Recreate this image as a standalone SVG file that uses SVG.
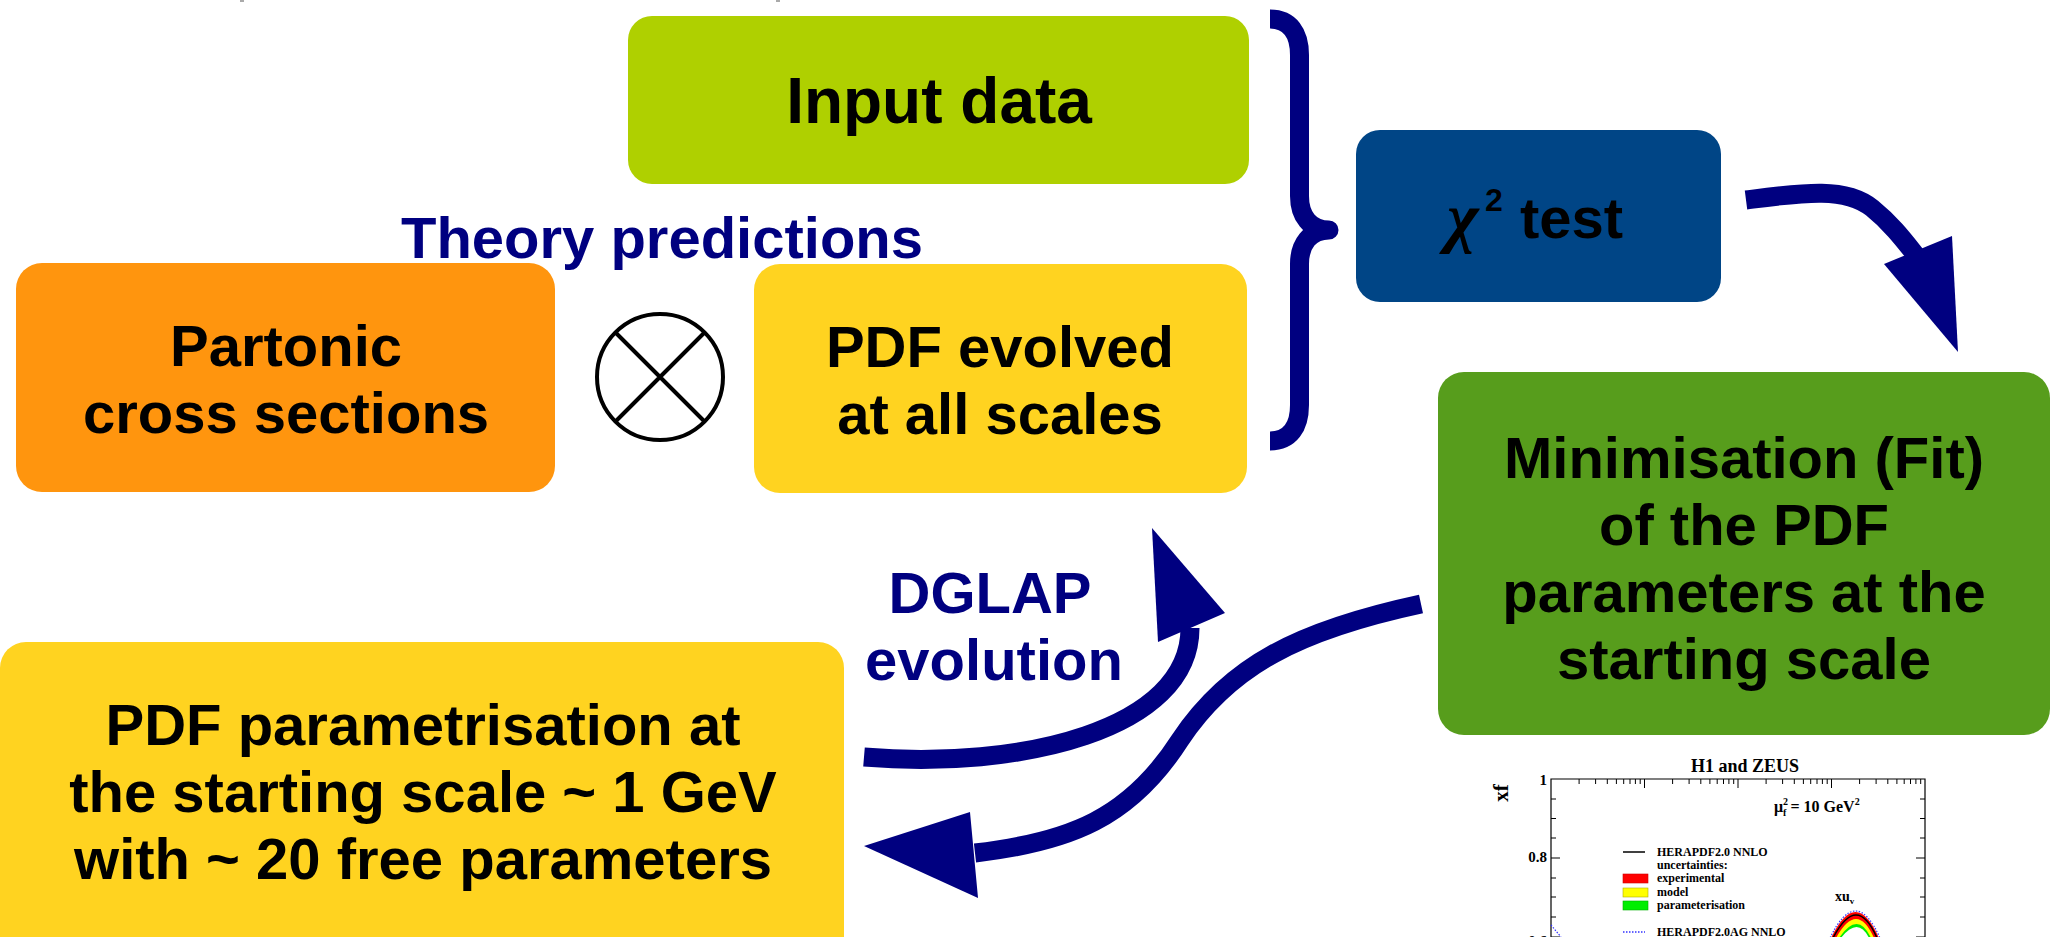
<svg xmlns="http://www.w3.org/2000/svg" width="2052" height="937" viewBox="0 0 2052 937">
<style>
.lbl{font-family:"Liberation Sans",Arial,sans-serif;font-weight:bold;font-size:58px;text-anchor:middle;fill:#000}
.blue{fill:#000080}
.shaft{fill:none;stroke:#000080;stroke-width:19}
.head{fill:#000080}
.pt{font-family:"Liberation Serif","Times New Roman",serif;font-weight:bold;fill:#000}
.tick{stroke:#000;stroke-width:1;fill:none}
</style>
<rect width="2052" height="937" fill="#fff"/>
<rect x="240" y="0" width="4" height="2" fill="#aaa"/>
<rect x="776" y="0" width="4" height="2" fill="#aaa"/>

<g id="input-data">
<rect x="628" y="16" width="621" height="168" rx="24" fill="#AFD000"/>
<text class="lbl" x="939" y="123" style="font-size:64px">Input data</text>
</g>

<g id="theory-predictions">
<text class="lbl blue" x="662" y="258">Theory predictions</text>
</g>

<g id="partonic-cross-sections">
<rect x="16" y="263" width="539" height="229" rx="26" fill="#FF950E"/>
<text class="lbl" x="286" y="366">Partonic</text>
<text class="lbl" x="286" y="433">cross sections</text>
</g>

<g id="otimes">
<circle cx="660" cy="377" r="63" fill="none" stroke="#000" stroke-width="4"/>
<path d="M615.5,332.5 L704.5,421.5 M704.5,332.5 L615.5,421.5" stroke="#000" stroke-width="4" fill="none"/>
</g>

<g id="pdf-evolved">
<rect x="754" y="264" width="493" height="229" rx="26" fill="#FFD320"/>
<text class="lbl" x="1000" y="367">PDF evolved</text>
<text class="lbl" x="1000" y="434">at all scales</text>
</g>

<g id="chi2-test">
<rect x="1356" y="130" width="365" height="172" rx="24" fill="#004586"/>
<text x="1447" y="240" style="font-family:'Liberation Serif','Times New Roman',serif;font-style:italic;font-weight:bold;font-size:68px;fill:#000">χ</text>
<text x="1485" y="211" style="font-family:'Liberation Sans',Arial,sans-serif;font-weight:bold;font-size:32px;fill:#000">2</text>
<text x="1520" y="238" style="font-family:'Liberation Sans',Arial,sans-serif;font-weight:bold;font-size:58px;fill:#000">test</text>
</g>

<g id="minimisation">
<rect x="1438" y="372" width="612" height="363" rx="26" fill="#579D1C"/>
<text class="lbl" x="1744" y="478">Minimisation (Fit)</text>
<text class="lbl" x="1744" y="545">of the PDF</text>
<text class="lbl" x="1744" y="612">parameters at the</text>
<text class="lbl" x="1744" y="679">starting scale</text>
</g>

<g id="pdf-parametrisation">
<rect x="0" y="642" width="844" height="330" rx="26" fill="#FFD320"/>
<text class="lbl" x="423" y="745">PDF parametrisation at</text>
<text class="lbl" x="423" y="812">the starting scale ~ 1 GeV</text>
<text class="lbl" x="423" y="879">with ~ 20 free parameters</text>
</g>

<g id="dglap-label">
<text class="lbl blue" x="990" y="613">DGLAP</text>
<text class="lbl blue" x="994" y="680">evolution</text>
</g>

<g id="connectors">
<path d="M1270,19 C1290,19 1299.5,33 1299.5,55 L1299.5,196 C1299.5,216 1310,230 1329,230 C1310,230 1299.5,244 1299.5,264 L1299.5,405 C1299.5,427 1290,441 1270,441" fill="none" stroke="#000080" stroke-width="19" stroke-linejoin="round"/>
<path class="shaft" d="M1746,200 C1800,193 1845,186 1872,208 C1893,225 1906,243 1918,258"/>
<polygon class="head" points="1884,264 1952,236 1958,352"/>
<path class="shaft" d="M864,757 C1020,770 1190,730 1190,628"/>
<polygon class="head" points="1158,642 1225,613 1152,528"/>
<path class="shaft" d="M1421,604 C1300,630 1230,665 1180,740 C1130,818 1070,842 975,853"/>
<polygon class="head" points="970,812 978,898 864,846"/>
</g>

<g id="pdf-plot">
<text class="pt" x="1745" y="772" font-size="18" text-anchor="middle">H1 and ZEUS</text>
<path d="M1551,940 V779 H1925 V940" stroke="#000" stroke-width="1.2" fill="none"/>
<path class="tick" d="M1644.5,779v9 M1738,779v9 M1831.5,779v9
M1579.1,779v5 M1595.6,779v5 M1607.3,779v5 M1616.4,779v5 M1623.7,779v5 M1630,779v5 M1635.4,779v5 M1640.2,779v5
M1672.6,779v5 M1689.1,779v5 M1700.8,779v5 M1709.9,779v5 M1717.2,779v5 M1723.5,779v5 M1728.9,779v5 M1733.7,779v5
M1766.1,779v5 M1782.6,779v5 M1794.3,779v5 M1803.4,779v5 M1810.7,779v5 M1817,779v5 M1822.4,779v5 M1827.2,779v5
M1859.6,779v5 M1876.1,779v5 M1887.8,779v5 M1896.9,779v5 M1904.2,779v5 M1910.5,779v5 M1915.9,779v5 M1920.7,779v5"/>
<path class="tick" d="M1551,858h9 M1551,937h9 M1551,799h5 M1551,818.5h5 M1551,838h5 M1551,878h5 M1551,897h5 M1551,917h5
M1925,858h-9 M1925,937h-9 M1925,799h-5 M1925,818.5h-5 M1925,838h-5 M1925,878h-5 M1925,897h-5 M1925,917h-5"/>
<text class="pt" x="1547" y="785" font-size="15" text-anchor="end">1</text>
<text class="pt" x="1547" y="862" font-size="15" text-anchor="end">0.8</text>
<text class="pt" x="1547" y="946" font-size="15" text-anchor="end">0.6</text>
<text class="pt" transform="translate(1508,793) rotate(-90)" font-size="21" text-anchor="middle">xf</text>
<text class="pt" x="1774" y="812" font-size="16">μ<tspan font-size="10" dy="-7">2</tspan><tspan font-size="10" dx="-5" dy="11">f</tspan><tspan font-size="16" dy="-4"> = 10 GeV</tspan><tspan font-size="10" dy="-7">2</tspan></text>
<line x1="1623" y1="852" x2="1645" y2="852" stroke="#000" stroke-width="1.5"/>
<text class="pt" x="1657" y="856" font-size="12">HERAPDF2.0 NNLO</text>
<text class="pt" x="1657" y="869" font-size="12">uncertainties:</text>
<rect x="1623" y="874" width="25" height="9" fill="#ff0000" stroke="#cc0000" stroke-width="0.6"/>
<text class="pt" x="1657" y="882" font-size="12">experimental</text>
<rect x="1623" y="888" width="25" height="9" fill="#ffff00" stroke="#b0b000" stroke-width="0.6"/>
<text class="pt" x="1657" y="896" font-size="12">model</text>
<rect x="1623" y="901" width="25" height="9" fill="#00ee00" stroke="#00b000" stroke-width="0.6"/>
<text class="pt" x="1657" y="909" font-size="12">parameterisation</text>
<line x1="1623" y1="932" x2="1645" y2="932" stroke="#3333ff" stroke-width="1.5" stroke-dasharray="1.5,1.5"/>
<text class="pt" x="1657" y="936" font-size="12">HERAPDF2.0AG NNLO</text>
<text class="pt" x="1835" y="901" font-size="14">xu<tspan font-size="9" dy="3">v</tspan></text>
<path d="M1831,938 Q1856,886 1879,938 Z" fill="#ff0000"/>
<path d="M1836,938 Q1857,900 1874,938 Z" fill="#ffff00"/>
<path d="M1839,938 Q1858,910 1871,938 Z" fill="#00ee00"/>
<path d="M1841,938 Q1858,916 1869,938 Z" fill="#fff"/>
<path d="M1833,938 Q1857,892 1877,938" fill="none" stroke="#000" stroke-width="1.5"/>
<path d="M1830,938 Q1856,884 1880,938" fill="none" stroke="#3333ff" stroke-width="1.2" stroke-dasharray="1.5,1.5"/>
<path d="M1551,925 L1561,937" fill="none" stroke="#3333ff" stroke-width="1.2" stroke-dasharray="1.5,1.5"/>
</g>
</svg>
